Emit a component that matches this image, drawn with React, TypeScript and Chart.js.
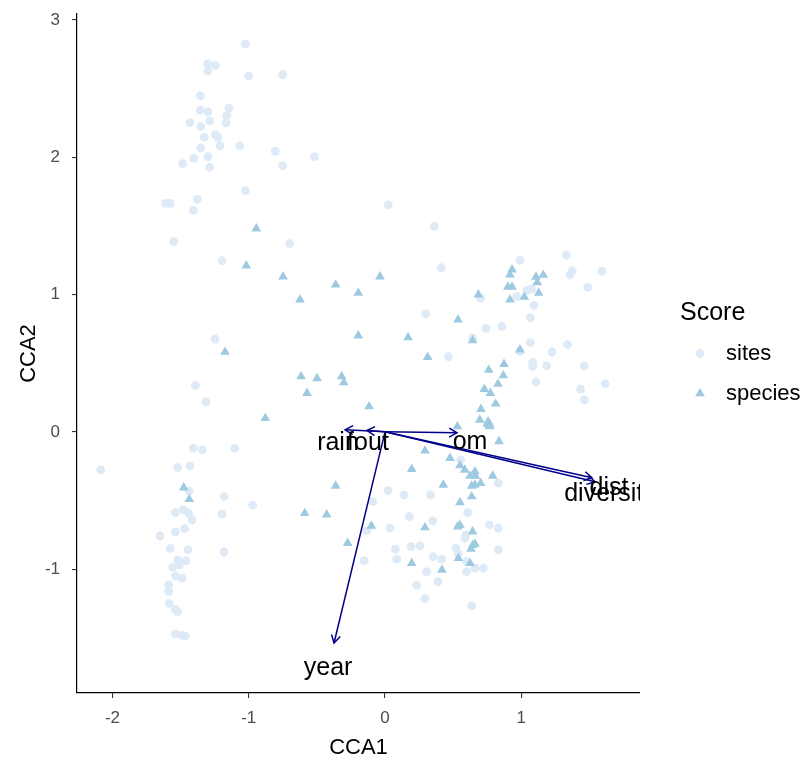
import React, { useEffect, useRef } from "react";
import { Chart, registerables } from "chart.js";

Chart.register(...registerables);

// Site scores (CCA1, CCA2)
const siteX = [
  -1.025, -1.301, -1.245, -1.301, -1.0, -0.751, -1.355, -1.145, -1.355, -1.299,
  -1.161, -1.167, -1.431, -1.286, -1.352, -1.326, -1.245, -1.227, -1.352, -1.211,
  -1.066, -0.805, -0.516, -1.299, -1.404, -1.485, -1.286, -0.751, -1.025, -1.612,
  -1.575, -1.377, -1.406, -1.55, -0.699, -1.196, -1.247, -1.392, -1.313, -1.406,
  -1.34, -1.103, -2.086, -1.521, -1.431, -1.438, -1.181, -0.971, -1.196, -1.538,
  -1.48, -1.44, -1.416, -1.47, -1.538, -1.651, -1.575, -1.445, -1.181, -1.521,
  -1.46, -1.558, -1.509, -1.538, -1.489, -1.587, -1.587, -1.583, -1.538, -1.521,
  -1.538, -1.489, -1.465, 0.024, 0.362, 0.413, 0.99, 1.33, 1.374, 1.357,
  1.592, 1.487, 0.966, 1.04, 1.076, 1.093, 1.066, 0.702, 0.299, 0.741,
  0.858, 0.643, 1.066, 1.34, 0.465, 0.99, 1.225, 1.083, 1.083, 1.186,
  1.462, 1.108, 1.435, 1.462, 1.616, 0.555, 0.831, 0.022, 0.139, 0.335,
  -0.09, 0.607, 0.178, 0.35, 0.037, -0.134, 0.765, 0.831, 0.592, 0.587,
  0.076, 0.191, 0.257, 0.521, 0.538, 0.831, 0.086, 0.354, 0.416, -0.152,
  0.599, 0.599, 0.66, 0.721, 0.306, 0.389, 0.233, 0.293, 0.636,
];
const siteY = [
  2.823, 2.682, 2.668, 2.629, 2.59, 2.602, 2.447, 2.357, 2.342, 2.33,
  2.303, 2.25, 2.252, 2.264, 2.223, 2.145, 2.162, 2.145, 2.068, 2.082,
  2.082, 2.043, 2.004, 2.004, 1.992, 1.953, 1.927, 1.939, 1.757, 1.664,
  1.664, 1.693, 1.613, 1.385, 1.37, 1.246, 0.676, 0.338, 0.219, -0.119,
  -0.131, -0.119, -0.277, -0.26, -0.248, -0.43, -0.471, -0.534, -0.6, -0.588,
  -0.569, -0.593, -0.641, -0.705, -0.729, -0.758, -0.85, -0.86, -0.875, -0.933,
  -0.94, -0.986, -0.969, -1.05, -1.066, -1.115, -1.164, -1.249, -1.293, -1.31,
  -1.472, -1.482, -1.487, 1.652, 1.496, 1.195, 1.249, 1.288, 1.173, 1.144,
  1.171, 1.052, 0.986, 1.03, 1.04, 0.921, 0.831, 0.972, 0.86, 0.753,
  0.768, 0.685, 0.649, 0.636, 0.547, 0.585, 0.583, 0.505, 0.476, 0.481,
  0.481, 0.364, 0.311, 0.233, 0.35, -0.204, -0.374, -0.428, -0.459, -0.459,
  -0.508, -0.588, -0.617, -0.649, -0.702, -0.719, -0.678, -0.702, -0.751, -0.775,
  -0.855, -0.836, -0.831, -0.848, -0.889, -0.86, -0.928, -0.909, -0.928, -0.938,
  -0.945, -1.018, -0.993, -0.993, -1.018, -1.091, -1.117, -1.215, -1.268,
];

// Species scores (CCA1, CCA2)
const speciesX = [
  -0.944, -1.018, -0.748, -0.362, -0.624, -1.174, -0.616, -0.499, -0.318, -0.303,
  -0.572, -0.878, -1.477, -1.436, -0.362, -0.589, -0.428, -0.274, -0.037, -0.196,
  0.932, 0.917, 0.902, 0.932, 0.917, 1.022, 1.108, 1.161, 1.117, 1.128,
  0.685, 0.536, -0.196, 0.169, 0.643, 0.313, 0.99, 0.873, 0.761, 0.868,
  0.829, 0.729, 0.773, 0.812, 0.704, 0.695, 0.756, 0.765, -0.117, 0.531,
  0.751, 0.77, 0.836, 0.293, 0.477, 0.55, 0.585, 0.66, 0.624, 0.663,
  0.702, 0.66, 0.636, 0.79, 0.428, 0.636, 0.55, 0.196, -0.1, 0.293,
  0.533, 0.55, 0.643, 0.643, 0.66, 0.631, 0.196, 0.418, 0.538, 0.624,
];
const speciesY = [
  1.48, 1.21, 1.13, 1.071, 0.962, 0.581, 0.403, 0.389, 0.403, 0.359,
  0.282, 0.1, -0.406, -0.491, -0.394, -0.593, -0.603, -0.811, 1.13, 1.011,
  1.181, 1.144, 1.055, 1.055, 0.962, 0.982, 1.128, 1.142, 1.088, 1.011,
  0.999, 0.816, 0.7, 0.687, 0.665, 0.544, 0.598, 0.493, 0.45, 0.41,
  0.348, 0.311, 0.282, 0.204, 0.165, 0.087, 0.075, 0.039, 0.184, 0.039,
  0.058, 0.051, -0.07, -0.138, -0.192, -0.245, -0.277, -0.289, -0.321, -0.321,
  -0.374, -0.386, -0.394, -0.321, -0.386, -0.471, -0.515, -0.272, -0.685, -0.697,
  -0.69, -0.68, -0.727, -0.826, -0.816, -0.853, -0.957, -1.006, -0.921, -0.957,
];

// Environmental vectors: arrow tips and label positions
const envNames = ["rain", "fout", "om", "dist", "diversity", "year"];
const envTipX = [-0.293, -0.132, 0.528, 1.519, 1.541, -0.374];
const envTipY = [0.015, 0.01, -0.007, -0.335, -0.364, -1.538];
const envLabelX = [-0.345, -0.125, 0.624, 1.643, 1.651, -0.418];
const envLabelY = [-0.08, -0.08, -0.073, -0.408, -0.452, -1.72];

// Axis ticks
const xTicks = [-2, -1, 0, 1];
const yTicks = [-1, 0, 1, 2, 3];

const legendTitle = "Score";
const FONT = "'Liberation Sans', Arial, sans-serif";
const ARROW_COLOR = "#00008B";

const biplotArrows = {
  id: "biplotArrows",
  afterDatasetsDraw(chart: any) {
    const { ctx, chartArea, scales } = chart;
    const xs = scales.x;
    const ys = scales.y;
    ctx.save();
    ctx.beginPath();
    ctx.rect(chartArea.left, chartArea.top, chartArea.right - chartArea.left, chartArea.bottom - chartArea.top);
    ctx.clip();
    const x0 = xs.getPixelForValue(0);
    const y0 = ys.getPixelForValue(0);
    ctx.strokeStyle = ARROW_COLOR;
    ctx.lineWidth = 1.5;
    ctx.lineCap = "butt";
    envTipX.forEach((tx, i) => {
      const x1 = xs.getPixelForValue(tx);
      const y1 = ys.getPixelForValue(envTipY[i]);
      ctx.beginPath();
      ctx.moveTo(x0, y0);
      ctx.lineTo(x1, y1);
      ctx.stroke();
      const ang = Math.atan2(y1 - y0, x1 - x0);
      const len = 9;
      const spread = Math.PI / 6;
      ctx.beginPath();
      ctx.moveTo(x1 - len * Math.cos(ang - spread), y1 - len * Math.sin(ang - spread));
      ctx.lineTo(x1, y1);
      ctx.lineTo(x1 - len * Math.cos(ang + spread), y1 - len * Math.sin(ang + spread));
      ctx.stroke();
    });
    ctx.fillStyle = "#000000";
    ctx.font = `25px ${FONT}`;
    ctx.textAlign = "center";
    ctx.textBaseline = "middle";
    envNames.forEach((name, i) => {
      ctx.fillText(name, xs.getPixelForValue(envLabelX[i]), ys.getPixelForValue(envLabelY[i]));
    });
    ctx.restore();
  },
};

const scoreLegend = {
  id: "scoreLegend",
  afterDraw(chart: any) {
    const { ctx, chartArea } = chart;
    const cy = (chartArea.top + chartArea.bottom) / 2;
    const left = chartArea.right + 40;
    ctx.save();
    ctx.fillStyle = "#000000";
    ctx.font = `25px ${FONT}`;
    ctx.textAlign = "left";
    ctx.textBaseline = "middle";
    ctx.fillText(legendTitle, left, cy - 40);
    ctx.font = `22px ${FONT}`;
    chart.data.datasets.forEach((ds: any, i: number) => {
      const rowY = cy + i * 40;
      const sx = left + 20;
      ctx.fillStyle = ds.backgroundColor;
      ctx.beginPath();
      if (ds.pointStyle === "triangle") {
        const r = ds.pointRadius;
        ctx.moveTo(sx, rowY - r);
        ctx.lineTo(sx + r * Math.sin((2 * Math.PI) / 3), rowY - r * Math.cos((2 * Math.PI) / 3));
        ctx.lineTo(sx + r * Math.sin((4 * Math.PI) / 3), rowY - r * Math.cos((4 * Math.PI) / 3));
        ctx.closePath();
      } else {
        ctx.arc(sx, rowY, ds.pointRadius, 0, Math.PI * 2);
      }
      ctx.fill();
      ctx.fillStyle = "#000000";
      ctx.fillText(ds.label, left + 46, rowY);
    });
    ctx.restore();
  },
};

export default function App() {
  const canvasRef = useRef<HTMLCanvasElement | null>(null);

  useEffect(() => {
    document.body.style.margin = "0";
    const canvas = canvasRef.current;
    if (!canvas) return;
    const chart = new Chart(canvas, {
      type: "scatter",
      data: {
        datasets: [
          {
            label: "sites",
            data: siteX.map((x, i) => ({ x, y: siteY[i] })),
            pointStyle: "circle",
            pointRadius: 4.4,
            backgroundColor: "#DEEBF7",
            borderWidth: 0,
            order: 1,
          },
          {
            label: "species",
            data: speciesX.map((x, i) => ({ x, y: speciesY[i] })),
            pointStyle: "triangle",
            pointRadius: 5.6,
            backgroundColor: "#9ECAE1",
            borderWidth: 0,
            order: 0,
          },
        ] as any,
      },
      options: {
        responsive: false,
        animation: false,
        events: [],
        layout: { padding: { left: 0, top: 14, right: 166, bottom: 0 } },
        plugins: { legend: { display: false }, tooltip: { enabled: false } },
        scales: {
          x: {
            type: "linear",
            min: -2.26,
            max: 1.871,
            afterBuildTicks: (s: any) => {
              s.ticks = xTicks.map((v) => ({ value: v }));
            },
            afterFit: (s: any) => {
              s.height = 71;
              s.paddingLeft = 0;
              s.paddingRight = 0;
            },
            grid: { display: true, drawOnChartArea: false, drawTicks: true, tickLength: 5, color: "#333333", lineWidth: 1.1 },
            border: { display: true, color: "#000000", width: 1.2 },
            ticks: { color: "#4D4D4D", font: { family: FONT, size: 17 }, padding: 10, callback: (v: any) => String(v) },
            title: { display: true, text: "CCA1", color: "#000000", font: { family: FONT, size: 22 }, padding: { top: 0, bottom: 3 } },
          },
          y: {
            type: "linear",
            min: -1.902,
            max: 3.043,
            afterBuildTicks: (s: any) => {
              s.ticks = yTicks.map((v) => ({ value: v }));
            },
            afterFit: (s: any) => {
              s.width = 77;
              s.paddingTop = 0;
              s.paddingBottom = 0;
            },
            grid: { display: true, drawOnChartArea: false, drawTicks: true, tickLength: 5, color: "#333333", lineWidth: 1.1 },
            border: { display: true, color: "#000000", width: 1.2 },
            ticks: { color: "#4D4D4D", font: { family: FONT, size: 17 }, padding: 12, callback: (v: any) => String(v) },
            title: { display: true, text: "CCA2", color: "#000000", font: { family: FONT, size: 22 }, padding: { top: 16, bottom: 0 } },
          },
        },
      },
      plugins: [biplotArrows, scoreLegend],
    });
    return () => chart.destroy();
  }, []);

  return <canvas ref={canvasRef} width={806} height={764} style={{ display: "block" }} />;
}
